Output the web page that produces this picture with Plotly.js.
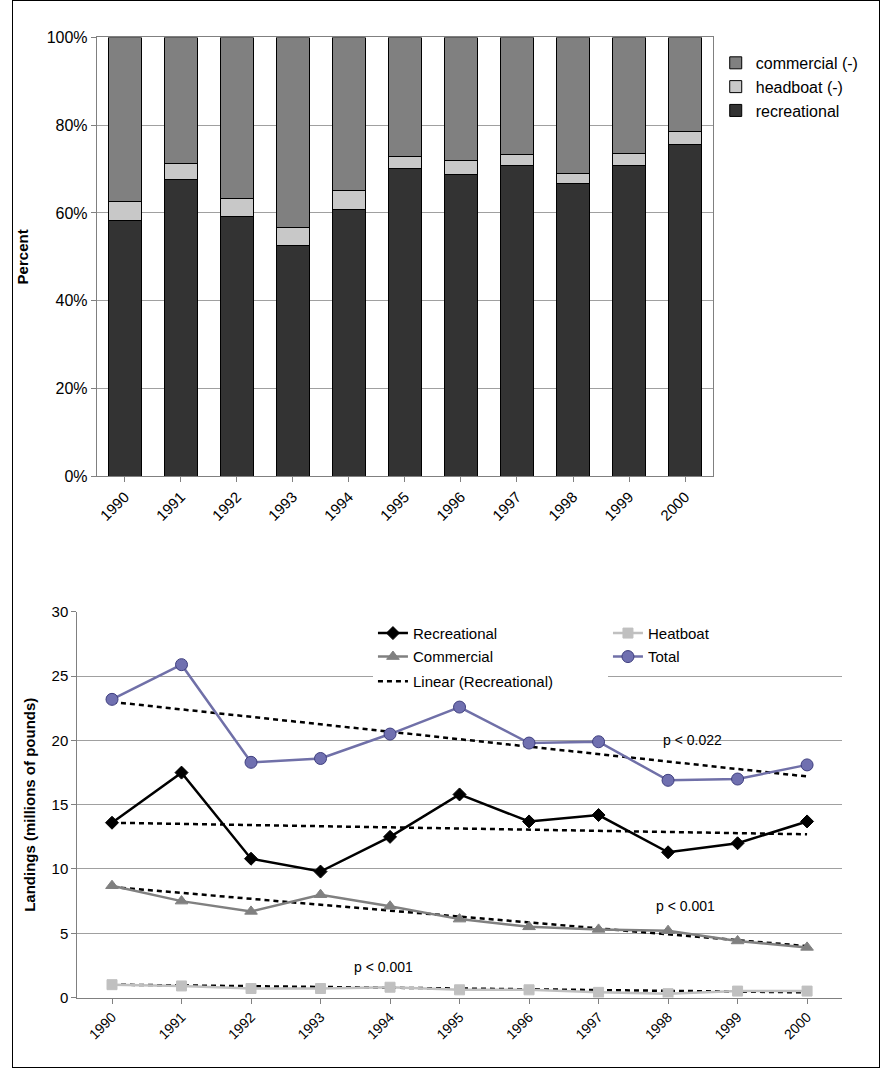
<!DOCTYPE html>
<html><head><meta charset="utf-8">
<script src="https://cdn.plot.ly/plotly-3.0.1.min.js"></script>
<style>
body{margin:0;background:#fff}
#frame{position:absolute;left:12px;top:0;width:866px;height:1066px;border:1px solid #000}
#chart{position:absolute;left:0;top:0;width:888px;height:1068px}
</style></head>
<body><div id="frame"></div><div id="chart"></div>
<script>
// Percent share by sector (top chart)
const years = ['1990','1991','1992','1993','1994','1995','1996','1997','1998','1999','2000'];
const pctRecreational = [58.2, 67.6, 59.3, 52.7, 60.9, 70.2, 68.8, 70.9, 66.8, 70.9, 75.7];
const pctHeadboat = [4.5, 3.6, 4.1, 4.1, 4.3, 2.7, 3.2, 2.5, 2.3, 2.7, 2.9];
const pctCommercial = [37.3, 28.8, 36.6, 43.2, 34.8, 27.1, 28.0, 26.6, 30.9, 26.4, 21.4];

// Landings, millions of pounds (bottom chart)
const recreational = [13.6, 17.5, 10.8, 9.8, 12.5, 15.8, 13.7, 14.2, 11.3, 12.0, 13.7];
const headboat = [1.0, 0.9, 0.7, 0.7, 0.8, 0.6, 0.6, 0.4, 0.3, 0.5, 0.5];
const commercial = [8.7, 7.5, 6.7, 8.0, 7.1, 6.1, 5.5, 5.3, 5.2, 4.4, 3.9];
const total = [23.2, 25.9, 18.3, 18.6, 20.5, 22.6, 19.8, 19.9, 16.9, 17.0, 18.1];

// trend line endpoints
const trendYears = ['1990', '2000'];
const trendRecreational = [13.6, 12.7];
const trendTotal = [23.0, 17.2];
const trendCommercial = [8.6, 4.0];
const trendHeadboat = [1.0, 0.4];

const FONT = 'Liberation Sans, Arial, sans-serif';

const bar = (name, y, color) => ({
    type: 'bar', name, x: years, y, xaxis: 'x', yaxis: 'y', legend: 'legend',
    marker: { color, line: { color: '#000', width: 1 } },
});
const line = (name, y, color, symbol, size, leg, mcolor) => ({
    type: 'scatter', mode: 'lines+markers', name, x: years, y, xaxis: 'x2', yaxis: 'y2',
    legend: leg,
    line: { color, width: 2.5 },
    marker: { symbol, size, color: mcolor || color, line: { color: mcolor ? '#3f3f7f' : color, width: 1 } },
});
const trend = (name, y, show) => ({
    type: 'scatter', mode: 'lines', name, x: trendYears, y, xaxis: 'x2', yaxis: 'y2',
    legend: 'legend4', showlegend: show,
    line: { color: '#000', width: 2.5, dash: '5px,4px' },
});

const data = [
    bar('recreational', pctRecreational, '#333333'),
    bar('headboat (-)', pctHeadboat, '#c8c8c8'),
    bar('commercial (-)', pctCommercial, '#808080'),
    trend('Linear (Total)', trendTotal, false),
    trend('Linear (Commercial)', trendCommercial, false),
    trend('Linear (Headboat)', trendHeadboat, false),
    line('Recreational', recreational, '#000000', 'diamond', 10, 'legend2'),
    line('Heatboat', headboat, '#c0c0c0', 'square', 10, 'legend2'),
    line('Commercial', commercial, '#808080', 'triangle-up', 11, 'legend3'),
    line('Total', total, '#7070a8', 'circle', 12, 'legend3', '#7070b0'),
    trend('Linear (Recreational)', trendRecreational, true),
];

const rowLegend = (y) => ({
    xref: 'container', yref: 'container', x: 0.42, y, xanchor: 'left', yanchor: 'middle',
    orientation: 'h', entrywidth: 190, entrywidthmode: 'pixels', font: { size: 15 },
    bgcolor: '#fff', borderwidth: 0, tracegroupgap: 0,
});

const layout = {
    width: 888, height: 1068,
    margin: { l: 0, r: 0, t: 0, b: 0, autoexpand: false },
    font: { family: FONT, size: 14, color: '#000' },
    paper_bgcolor: 'rgba(0,0,0,0)', plot_bgcolor: '#fff',
    barmode: 'stack', bargap: 0.41,
    xaxis: {
        domain: [0.109, 0.803], anchor: 'y', type: 'category', tickangle: -45,
        showline: true, linecolor: '#808080', mirror: true, ticks: 'outside', tickcolor: '#808080',
        tickfont: { size: 15 },
    },
    yaxis: {
        domain: [0.554, 0.965], anchor: 'x', range: [0, 100], dtick: 20, ticksuffix: '%',
        showgrid: true, gridcolor: '#a0a0a0', showline: true, linecolor: '#808080', mirror: true,
        ticks: 'outside', tickcolor: '#808080', tickfont: { size: 16 },
        title: { text: '<b>Percent</b>', font: { size: 15 }, standoff: 14 },
    },
    xaxis2: {
        domain: [0.087, 0.948], anchor: 'y2', type: 'category', tickangle: -45, range: [-0.5, 10.5],
        categoryorder: 'array', categoryarray: years,
        showline: true, linecolor: '#808080', ticks: 'outside', tickcolor: '#808080',
        tickfont: { size: 14 }, showgrid: false,
    },
    yaxis2: {
        domain: [0.066, 0.427], anchor: 'x2', range: [0, 30], dtick: 5,
        showgrid: true, gridcolor: '#a0a0a0', showline: true, linecolor: '#808080',
        ticks: 'outside', tickcolor: '#808080', tickfont: { size: 15 }, zeroline: false,
        title: { text: '<b>Landings (millions of pounds)</b>', font: { size: 15 }, standoff: 12 },
    },
    legend: {
        xref: 'container', yref: 'container',
        x: 0.806, y: 0.957, xanchor: 'left', yanchor: 'top', traceorder: 'reversed',
        font: { size: 16 }, bgcolor: 'rgba(0,0,0,0)',
    },
    legend2: rowLegend(0.407),
    legend3: rowLegend(0.385),
    legend4: rowLegend(0.362),
    annotations: [
        { x: 8.35, y: 20, xref: 'x2', yref: 'y2', text: 'p < 0.022', showarrow: false, font: { size: 14 } },
        { x: 8.25, y: 7.1, xref: 'x2', yref: 'y2', text: 'p < 0.001', showarrow: false, font: { size: 14 } },
        { x: 3.9, y: 2.4, xref: 'x2', yref: 'y2', text: 'p < 0.001', showarrow: false, font: { size: 14 } },
    ],
};

Plotly.newPlot('chart', data, layout, { displayModeBar: false, staticPlot: true });
</script></body></html>
